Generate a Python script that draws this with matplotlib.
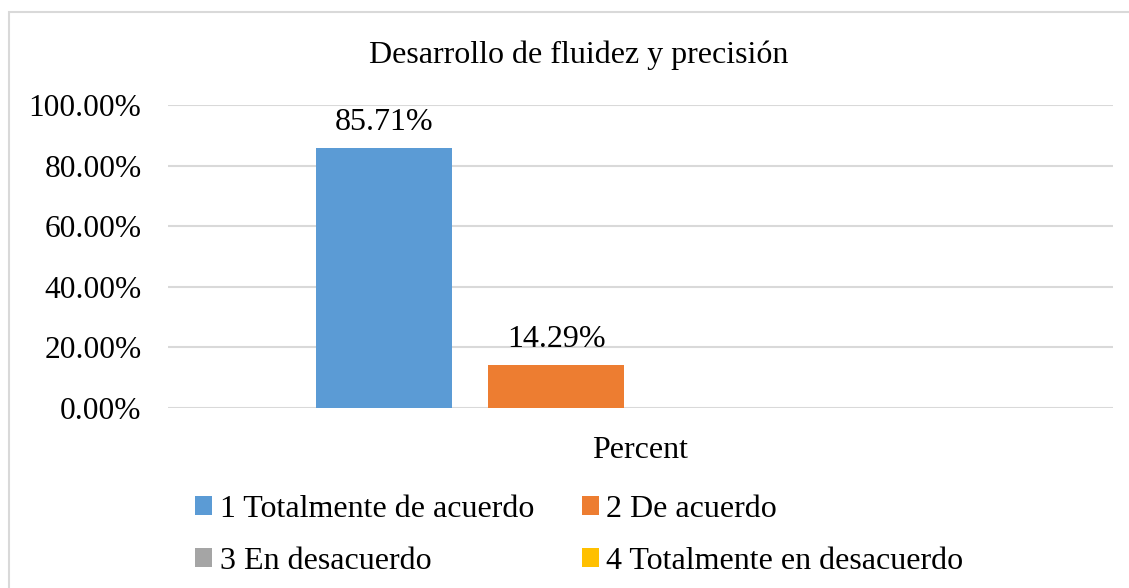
import matplotlib
matplotlib.use("Agg")
import matplotlib.pyplot as plt
from matplotlib.patches import Patch, Rectangle
import numpy as np

plt.rcParams["font.family"] = ["Liberation Serif", "DejaVu Serif"]

TITLE = "Desarrollo de fluidez y precisión"
CATEGORY = "Percent"
SERIES = ["1 Totalmente de acuerdo", "2 De acuerdo", "3 En desacuerdo",
          "4 Totalmente en desacuerdo"]
VALUES = [85.71, 14.29, 0.0, 0.0]
COLORS = ["#5B9BD5", "#ED7D31", "#A5A5A5", "#FFC000"]
YTICKS = [0, 20, 40, 60, 80, 100]

FS = 23

fig = plt.figure(figsize=(11.29, 5.88), dpi=100)
ax = fig.add_axes([168 / 1129, 1 - 408 / 588, 945 / 1129, 303 / 588])

# frame around the chart area (right/bottom edges run off the image)
fig.patches.append(Rectangle((9 / 1129, -0.1), 1.2, 1 - 12 / 588 + 0.1,
                             transform=fig.transFigure, fill=False,
                             edgecolor="#d9d9d9", linewidth=1.5))

width = 0.144
step = 0.182
offsets = (np.arange(len(SERIES)) - 1.5) * step + 0.002
for off, val, col, name in zip(offsets, VALUES, COLORS, SERIES):
    ax.bar(off, val, width, color=col, label=name, zorder=3)
    if val > 0:
        ax.text(off, val + 3.6, f"{val:.2f}%", ha="center", va="bottom",
                fontsize=FS, color="#000000")

ax.set_xlim(-0.5, 0.5)
ax.set_ylim(0, 100)
ax.set_yticks(YTICKS)
ax.set_yticklabels([f"{v:.2f}%" for v in YTICKS], fontsize=22.6)
ax.set_xticks([0])
ax.set_xticklabels([CATEGORY], fontsize=FS)
ax.tick_params(axis="y", length=0, pad=19)
ax.tick_params(axis="x", length=0, pad=20)
ax.grid(axis="y", color="#d9d9d9", linewidth=1.5, zorder=0)
ax.set_axisbelow(True)
for s in ax.spines.values():
    s.set_visible(False)

fig.text(579 / 1129, 1 - 55 / 588, TITLE, ha="center", va="center", fontsize=FS)

handles = [Patch(facecolor=c, edgecolor="none") for c in COLORS]
order = [0, 2, 1, 3]
fig.legend([handles[i] for i in order], [SERIES[i] for i in order],
           ncol=2, frameon=False, fontsize=FS,
           loc="upper left", bbox_to_anchor=(195 / 1129, 1 - 495 / 588),
           borderaxespad=0, borderpad=0,
           handlelength=0.52, handleheight=0.52, handletextpad=0.25,
           columnspacing=1.5, labelspacing=0.72)

fig.savefig("out.png", dpi=100)
